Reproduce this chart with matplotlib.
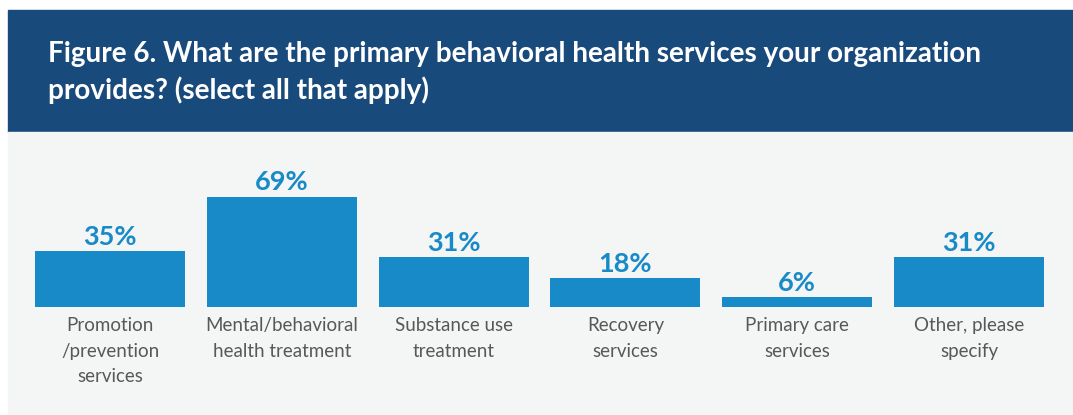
import matplotlib.pyplot as plt
from matplotlib.patches import Rectangle

categories = ["Promotion\n/prevention\nservices", "Mental/behavioral\nhealth treatment",
              "Substance use\ntreatment", "Recovery\nservices",
              "Primary care\nservices", "Other, please\nspecify"]
values = [35, 69, 31, 18, 6, 31]
title_lines = ["Figure 6. What are the primary behavioral health services your organization",
               "provides? (select all that apply)"]

W, H = 1073, 415
HEADER = "#194a7c"
PANEL = "#f4f5f5"
BAR = "#188ac8"
TEXT = "#585858"

fig = plt.figure(figsize=(W / 100, H / 100), dpi=100)
fig.patch.set_facecolor("white")

# header band and grey panel (pixel coords -> figure fraction)
fig.add_artist(Rectangle((8 / W, (H - 132) / H), 1, 122 / H, transform=fig.transFigure,
                         color=HEADER, zorder=0))
fig.add_artist(Rectangle((8 / W, 0), 1, (H - 132) / H, transform=fig.transFigure,
                         color=PANEL, zorder=0))

for i, line in enumerate(title_lines):
    fig.text(48 / W, (H - 62 - i * 37.5) / H, line, color="white", fontsize=20.1,
             fontweight="bold", family="Lato", va="baseline", ha="left")

# bars: baseline at y=307px, 1.6 px per percent, pitch 171.8 px, first centre at 110 px
pitch = 171.8
first = 110
base_px = H - 307
top_px = H - 132
ax = fig.add_axes([0, base_px / H, 1, (top_px - base_px) / H])
ax.set_xlim(-first / pitch, (W - first) / pitch)
ax.set_ylim(0, (top_px - base_px) / 1.6)
ax.axis("off")
ax.patch.set_alpha(0)

x = range(len(values))
ax.bar(x, values, width=150 / pitch, color=BAR, zorder=2)

for i, v in enumerate(values):
    ax.annotate(f"{v}%", xy=(i, v), xytext=(0, 4.5), textcoords="offset points",
                ha="center", va="baseline", fontsize=19.5, fontweight="bold",
                family="Lato", color=BAR)
    ax.annotate(categories[i], xy=(i, 0), xytext=(0, -7.5), textcoords="offset points",
                ha="center", va="top", fontsize=13.5, family="Lato", color=TEXT,
                linespacing=1.6, annotation_clip=False)

fig.savefig("out.png", dpi=100)
